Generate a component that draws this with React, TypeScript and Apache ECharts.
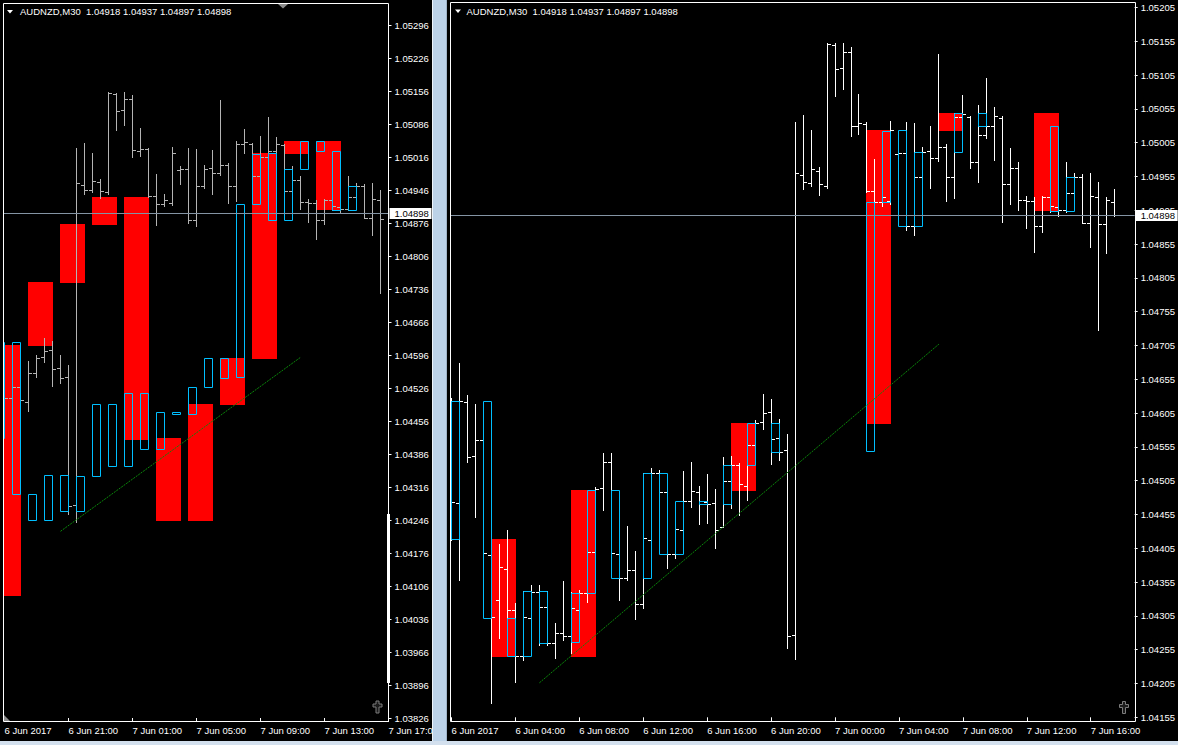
import React, { useEffect, useRef } from "react";
import * as echarts from "echarts";

// ---------- data (AUDNZD M30, bar 0 = 6 Jun 2017 00:00) ----------
const TITLE = "AUDNZD,M30  1.04918 1.04937 1.04897 1.04898";
const BID = 1.04898;
const BID_LABEL = "1.04898";

const OPEN = [
  1.04521, 1.04472, 1.04621, 1.04542, 1.04565, 1.04395, 1.04329, 1.04374, 1.04314, 1.04246,
  1.04302, 1.0434, 1.04318, 1.04265, 1.0428, 1.04275, 1.04314, 1.04339, 1.044, 1.04494,
  1.04533, 1.04397, 1.04361, 1.04373, 1.04323, 1.04417, 1.04516, 1.04488, 1.04397, 1.04432,
  1.04475, 1.04488, 1.04473, 1.04472, 1.04437, 1.04505, 1.04528, 1.04497, 1.04558, 1.04592,
  1.04607, 1.04568, 1.0455, 1.04277, 1.04957, 1.04946, 1.04963, 1.04941, 1.0515, 1.05115,
  1.05139, 1.05029, 1.05033, 1.04934, 1.04917, 1.04919, 1.04988, 1.0499, 1.04882, 1.04954,
  1.04993, 1.04982, 1.04999, 1.04954, 1.05043, 1.05043, 1.04976, 1.05016, 1.05029, 1.05042,
  1.04944, 1.04968, 1.0492, 1.04919, 1.04882, 1.04925, 1.0491, 1.04905, 1.04931, 1.04954,
  1.04886, 1.04925, 1.04885, 1.04918,
];
const HIGH = [
  1.04627, 1.04679, 1.04632, 1.04618, 1.04617, 1.04402, 1.04411, 1.04432, 1.04324, 1.04342,
  1.04351, 1.04351, 1.04342, 1.04295, 1.04357, 1.0434, 1.04343, 1.04477, 1.04496, 1.04546,
  1.04546, 1.04405, 1.04438, 1.04401, 1.04516, 1.04524, 1.04521, 1.04506, 1.04469, 1.04519,
  1.04533, 1.04497, 1.04515, 1.04493, 1.0454, 1.04542, 1.04531, 1.04583, 1.04595, 1.04633,
  1.04626, 1.04596, 1.04574, 1.05036, 1.05046, 1.05024, 1.04969, 1.05153, 1.05152, 1.05153,
  1.05147, 1.05077, 1.05036, 1.04981, 1.04938, 1.05037, 1.04996, 1.05036, 1.05034, 1.04999,
  1.0503, 1.05136, 1.05003, 1.05049, 1.05076, 1.05045, 1.05061, 1.05101, 1.05058, 1.05044,
  1.04997, 1.04976, 1.04926, 1.04925, 1.04926, 1.05016, 1.0492, 1.04976, 1.0496, 1.04959,
  1.0496, 1.04947, 1.04925, 1.04937,
];
const LOW = [
  1.04417, 1.04358, 1.04533, 1.04451, 1.04373, 1.04176, 1.04272, 1.04299, 1.04207, 1.0424,
  1.04255, 1.04262, 1.04262, 1.04243, 1.04269, 1.0425, 1.04269, 1.04326, 1.04388, 1.04462,
  1.04388, 1.04329, 1.04358, 1.043, 1.04317, 1.0441, 1.04477, 1.04376, 1.04391, 1.0441,
  1.04466, 1.04441, 1.04442, 1.04405, 1.04437, 1.04465, 1.04454, 1.04477, 1.0455, 1.04581,
  1.0453, 1.04536, 1.04258, 1.04241, 1.04937, 1.04941, 1.04928, 1.04938, 1.05074, 1.05084,
  1.05015, 1.05018, 1.04932, 1.04871, 1.04912, 1.04915, 1.04959, 1.04876, 1.04869, 1.0495,
  1.04938, 1.04978, 1.04919, 1.04923, 1.05024, 1.04968, 1.04947, 1.05012, 1.04979, 1.04888,
  1.04914, 1.04905, 1.04879, 1.04843, 1.04873, 1.04903, 1.04897, 1.04903, 1.04913, 1.04886,
  1.04851, 1.04728, 1.04842, 1.04897,
];
const CLOSE = [
  1.04474, 1.04623, 1.0454, 1.04565, 1.04398, 1.04303, 1.04377, 1.04314, 1.04246, 1.04303,
  1.0434, 1.04318, 1.04265, 1.0428, 1.04275, 1.04317, 1.04339, 1.044, 1.04493, 1.04533,
  1.04398, 1.04361, 1.04373, 1.04323, 1.0442, 1.04516, 1.04488, 1.04397, 1.04434, 1.04475,
  1.0449, 1.04475, 1.04471, 1.04432, 1.04505, 1.04528, 1.045, 1.04558, 1.0459, 1.04605,
  1.04567, 1.04547, 1.04275, 1.0496, 1.04947, 1.04966, 1.04944, 1.05151, 1.05114, 1.05139,
  1.0503, 1.05034, 1.04934, 1.04917, 1.04925, 1.05024, 1.0499, 1.04882, 1.04954, 1.04991,
  1.04982, 1.04999, 1.04954, 1.05043, 1.05048, 1.04976, 1.05016, 1.05029, 1.05044, 1.04944,
  1.04968, 1.0492, 1.04919, 1.04882, 1.04925, 1.04911, 1.04905, 1.04931, 1.04954, 1.04886,
  1.04926, 1.04885, 1.0492, 1.04898,
];

// red filled zones (3 bars wide)
const RED_TOP = [1.04618, 1.04751, 1.04874, 1.04932, 1.04932, 1.04419, 1.04491, 1.0459, 1.05024, 1.05049, 1.05049];
const RED_BOTTOM = [1.04086, 1.04618, 1.04751, 1.04874, 1.04418, 1.04246, 1.04246, 1.04491, 1.0459, 1.05024, 1.04905];
const LEFT_RED_START = [33, 37, 41, 45, 49, 53, 57, 61, 65, 69, 73];
const RIGHT_RED_START = [null, null, null, null, null, 5, 15, 35, 52, 61, 73];
const RED_SPAN = 3;

// cyan outlined boxes (1 bar wide)
const CYAN_TOP = [1.04623, 1.04623, 1.04302, 1.04342, 1.04342, 1.04339, 1.04491, 1.04491, 1.04516, 1.04516, 1.04475, 1.04475, 1.04528, 1.0459, 1.0459, 1.04917, 1.05022, 1.05024, 1.04991, 1.05049, 1.05049, 1.05029, 1.04954];
const CYAN_BOTTOM = [1.04419, 1.04302, 1.04246, 1.04246, 1.04265, 1.04266, 1.04339, 1.04361, 1.04361, 1.04397, 1.04397, 1.04471, 1.04471, 1.04528, 1.04547, 1.04549, 1.04917, 1.04882, 1.04882, 1.04991, 1.05029, 1.04904, 1.04904];
const LEFT_CYAN_START = [33, 35, 37, 39, 41, 43, 45, 47, 49, 51, 53, 55, 57, 59, 61, 63, 65, 67, 69, 71, 73, 75, 77];
const RIGHT_CYAN_START = [0, 4, 7, 9, 11, 15, 17, 20, 24, 26, 28, 31, 34, 37, 40, 52, 54, 56, 58, 63, 66, 75, 77];
const CYAN_SPAN = 1;

// trend lines
const LEFT_TREND_BARS = [41, 71];
const LEFT_TREND_PRICES = [1.04222, 1.04591];
const RIGHT_TREND_BARS = [11, 61];
const RIGHT_TREND_PRICES = [1.04206, 1.04707];

// axes
const LEFT_X_LABELS = ["6 Jun 2017", "6 Jun 21:00", "7 Jun 01:00", "7 Jun 05:00", "7 Jun 09:00", "7 Jun 13:00", "7 Jun 17:00"];
const RIGHT_X_LABELS = ["6 Jun 2017", "6 Jun 04:00", "6 Jun 08:00", "6 Jun 12:00", "6 Jun 16:00", "6 Jun 20:00", "7 Jun 00:00", "7 Jun 04:00", "7 Jun 08:00", "7 Jun 12:00", "7 Jun 16:00"];
const LEFT_Y_BASE = 1.03826;
const LEFT_Y_STEP = 0.0007;
const LEFT_Y_COUNT = 21;
const RIGHT_Y_BASE = 1.04155;
const RIGHT_Y_STEP = 0.0005;
const RIGHT_Y_COUNT = 21;

// ---------- styling / layout ----------
const FONT = '"Liberation Sans", Arial, sans-serif';
const FS = 9.5;
const RED = "#ff0000";
const CYAN = "#00bfff";
const GREEN = "#0a870a";
const BIDLINE = "#8494a4";

type Panel = {
  slot0: number; slots: number; firstBar: number; lastBar: number;
  grid: { left: number; top: number; width: number; height: number };
  yBase: number; yStep: number; yCount: number; xLabels: string[];
  xOffset: number; yOffset: number; barColor: string;
  redStart: (number | null)[]; cyanStart: number[];
  trendBars: number[]; trendPrices: number[];
};

const PANELS: Panel[] = [
  {
    slot0: 34, slots: 49, firstBar: 34, lastBar: 81,
    grid: { left: 4.5, top: 25, width: 384, height: 693 },
    yBase: LEFT_Y_BASE, yStep: LEFT_Y_STEP, yCount: LEFT_Y_COUNT, xLabels: LEFT_X_LABELS,
    xOffset: 3.5, yOffset: 0, barColor: "#b4b4b4",
    redStart: LEFT_RED_START, cyanStart: LEFT_CYAN_START,
    trendBars: LEFT_TREND_BARS, trendPrices: LEFT_TREND_PRICES,
  },
  {
    slot0: 0, slots: 86, firstBar: 0, lastBar: 83,
    grid: { left: 451.5, top: 7.5, width: 680, height: 709.8 },
    yBase: RIGHT_Y_BASE, yStep: RIGHT_Y_STEP, yCount: RIGHT_Y_COUNT, xLabels: RIGHT_X_LABELS,
    xOffset: 4.2, yOffset: 4, barColor: "#ffffff",
    redStart: RIGHT_RED_START, cyanStart: RIGHT_CYAN_START,
    trendBars: RIGHT_TREND_BARS, trendPrices: RIGHT_TREND_PRICES,
  },
];

type Box = { k1: number; k2: number; top: number; bottom: number };

function makeBoxes(p: Panel, starts: (number | null)[], tops: number[], bottoms: number[], span: number): Box[] {
  const out: Box[] = [];
  starts.forEach((s, j) => {
    if (s === null || s === undefined) return;
    out.push({ k1: s - p.slot0, k2: s + span - p.slot0, top: tops[j] - p.yBase, bottom: bottoms[j] - p.yBase });
  });
  return out;
}

function buildSeries(p: Panel, g: number): any[] {
  const reds = makeBoxes(p, p.redStart, RED_TOP, RED_BOTTOM, RED_SPAN);
  const cyans = makeBoxes(p, p.cyanStart, CYAN_TOP, CYAN_BOTTOM, CYAN_SPAN);
  const bars: number[][] = [];
  for (let i = p.firstBar; i <= p.lastBar; i++) {
    bars.push([i - p.slot0, OPEN[i] - p.yBase, HIGH[i] - p.yBase, LOW[i] - p.yBase, CLOSE[i] - p.yBase]);
  }

  const redSeries = {
    type: "custom", xAxisIndex: g, yAxisIndex: g, z: 1, silent: true,
    data: reds.map((b) => [Math.max(b.k1, 0), b.top]),
    renderItem: (params: any, api: any) => {
      const b = reds[params.dataIndex];
      const cs = params.coordSys;
      const p1 = api.coord([b.k1, b.top]);
      const p2 = api.coord([b.k2, b.bottom]);
      const x1 = Math.max(Math.floor(p1[0]), Math.floor(cs.x));
      const x2 = Math.floor(p2[0]) + 1;
      const y1 = Math.round(p1[1]);
      const y2 = Math.round(p2[1]) + 1;
      return { type: "rect", shape: { x: x1, y: y1, width: x2 - x1, height: y2 - y1 }, style: { fill: RED } };
    },
  };

  const barSeries = {
    type: "custom", xAxisIndex: g, yAxisIndex: g, z: 2, silent: true,
    encode: { x: 0, y: [1, 2, 3, 4] },
    data: bars,
    renderItem: (params: any, api: any) => {
      const cs = params.coordSys;
      const k = api.value(0);
      const pO = api.coord([k, api.value(1)]);
      const pH = api.coord([k, api.value(2)]);
      const pL = api.coord([k, api.value(3)]);
      const pC = api.coord([k, api.value(4)]);
      const x = Math.floor(pH[0]) + 0.5;
      const yH = Math.round(pH[1]);
      const yL = Math.round(pL[1]);
      const yO = Math.round(pO[1]) + 0.5;
      const yC = Math.round(pC[1]) + 0.5;
      const st = { stroke: p.barColor, lineWidth: 1 };
      const lx1 = Math.max(x - 3.5, Math.floor(cs.x));
      return {
        type: "group",
        children: [
          { type: "line", shape: { x1: x, y1: yH, x2: x, y2: Math.max(yL, yH) + 1 }, style: st },
          { type: "line", shape: { x1: lx1, y1: yO, x2: x - 0.5, y2: yO }, style: st },
          { type: "line", shape: { x1: x + 0.5, y1: yC, x2: x + 3.5, y2: yC }, style: st },
        ],
      };
    },
  };

  const cyanSeries = {
    type: "custom", xAxisIndex: g, yAxisIndex: g, z: 3, silent: true,
    data: cyans.map((b) => [Math.max(b.k1, 0), b.top]),
    renderItem: (params: any, api: any) => {
      const b = cyans[params.dataIndex];
      const cs = params.coordSys;
      const p1 = api.coord([b.k1, b.top]);
      const p2 = api.coord([b.k2, b.bottom]);
      const x1 = Math.max(Math.floor(p1[0]), Math.floor(cs.x)) + 0.5;
      const x2 = Math.floor(p2[0]) + 0.5;
      const y1 = Math.round(p1[1]) + 0.5;
      const y2 = Math.max(Math.round(p2[1]) + 0.5, y1 + 1);
      return {
        type: "rect",
        shape: { x: x1, y: y1, width: x2 - x1, height: y2 - y1 },
        style: { fill: "none", stroke: CYAN, lineWidth: 1 },
      };
    },
  };

  const trendSeries = {
    type: "line", xAxisIndex: g, yAxisIndex: g, z: 4, silent: true,
    showSymbol: false, symbol: "none",
    data: p.trendBars.map((b, j) => [b - p.slot0, p.trendPrices[j] - p.yBase]),
    lineStyle: { color: GREEN, width: 1, type: [2, 1] },
  };

  const bidSeries = {
    type: "custom", xAxisIndex: g, yAxisIndex: g, z: 5, silent: true,
    data: [[0, BID - p.yBase]],
    renderItem: (params: any, api: any) => {
      const cs = params.coordSys;
      const pt = api.coord([0, api.value(1)]);
      const y = Math.round(pt[1]) + 0.5;
      const axisX = cs.x + cs.width + p.yOffset;
      return {
        type: "group",
        children: [
          { type: "line", shape: { x1: Math.floor(cs.x), y1: y, x2: axisX, y2: y }, style: { stroke: BIDLINE, lineWidth: 1 } },
          { type: "rect", shape: { x: axisX + 1, y: y - 5.5, width: 42, height: 11 }, style: { fill: "#ffffff" } },
          {
            type: "text",
            style: { text: BID_LABEL, x: axisX + 6, y: y, fill: "#000000", fontSize: FS, fontFamily: FONT, align: "left", verticalAlign: "middle" },
          },
        ],
      };
    },
  };

  return [redSeries, barSeries, cyanSeries, trendSeries, bidSeries];
}

function cross(x: number, y: number): number[][] {
  return [
    [x + 3, y], [x + 6, y], [x + 6, y + 3], [x + 9, y + 3], [x + 9, y + 6], [x + 6, y + 6],
    [x + 6, y + 12], [x + 3, y + 12], [x + 3, y + 6], [x, y + 6], [x, y + 3], [x + 3, y + 3],
  ];
}

function buildOption(): any {
  const series: any[] = [];
  PANELS.forEach((p, g) => series.push(...buildSeries(p, g)));

  const textStyle = { fill: "#ffffff", fontSize: FS, fontFamily: FONT, verticalAlign: "middle", align: "left" };

  return {
    backgroundColor: "#000000",
    animation: false,
    grid: PANELS.map((p) => ({ ...p.grid, show: false })),
    xAxis: PANELS.map((p, g) => ({
      type: "category",
      gridIndex: g,
      data: Array.from({ length: p.slots }, (_, k) => String(k)),
      boundaryGap: false,
      position: "bottom",
      offset: p.xOffset,
      axisLine: { show: false },
      axisTick: { show: true, interval: 7, length: 4, lineStyle: { color: "#ffffff", width: 1 } },
      axisLabel: {
        show: true, interval: 7, color: "#ffffff", fontSize: FS, fontFamily: FONT, align: "left", margin: 4,
        formatter: (v: string) => {
          const k = Number(v);
          return k % 8 === 0 ? p.xLabels[k / 8] ?? "" : "";
        },
      },
      splitLine: { show: false },
    })),
    yAxis: PANELS.map((p, g) => ({
      type: "value",
      gridIndex: g,
      position: "right",
      offset: p.yOffset,
      min: 0,
      max: Number((p.yCount * p.yStep).toFixed(6)),
      interval: p.yStep,
      axisLine: { show: false },
      axisTick: { show: true, length: 3, lineStyle: { color: "#ffffff", width: 1 } },
      axisLabel: { color: "#ffffff", fontSize: FS, fontFamily: FONT, margin: 6, formatter: (v: number) => (p.yBase + v).toFixed(5) },
      splitLine: { show: false },
    })),
    series,
    graphic: {
      elements: [
        // frames
        { type: "rect", z: 50, silent: true, shape: { x: 3.5, y: 3.5, width: 385, height: 718 }, style: { fill: "none", stroke: "#ffffff", lineWidth: 1 } },
        { type: "rect", z: 50, silent: true, shape: { x: 450.5, y: 2.5, width: 685, height: 719 }, style: { fill: "none", stroke: "#ffffff", lineWidth: 1 } },
        // scale drag bar on left price axis
        { type: "rect", z: 50, silent: true, shape: { x: 387, y: 514, width: 3, height: 169 }, style: { fill: "#ffffff" } },
        // chart shift marker & corner mark
        { type: "polygon", z: 50, silent: true, shape: { points: [[278, 4], [288, 4], [283, 8.5]] }, style: { fill: "#8c8c8c" } },
        { type: "polygon", z: 50, silent: true, shape: { points: [[4, 715], [4, 721], [10, 721]] }, style: { fill: "#8c8c8c" } },
        // title triangles and texts
        { type: "polygon", z: 50, silent: true, shape: { points: [[7, 10], [13, 10], [10, 13.5]] }, style: { fill: "#ffffff" } },
        { type: "text", z: 50, silent: true, style: { ...textStyle, text: TITLE, x: 20, y: 11.5 } },
        { type: "polygon", z: 50, silent: true, shape: { points: [[455, 9.5], [461, 9.5], [458, 13]] }, style: { fill: "#ffffff" } },
        { type: "text", z: 50, silent: true, style: { ...textStyle, text: TITLE, x: 466.5, y: 11 } },
        // one-click crosses
        { type: "polygon", z: 50, silent: true, shape: { points: cross(373, 701) }, style: { fill: "#1c1c1c", stroke: "#7c7c7c", lineWidth: 1 } },
        { type: "polygon", z: 50, silent: true, shape: { points: cross(1119.5, 701.5) }, style: { fill: "#1c1c1c", stroke: "#7c7c7c", lineWidth: 1 } },
        // window separators
        { type: "rect", z: 100, silent: true, shape: { x: 432, y: 0, width: 15, height: 745 }, style: { fill: "#bcd2e8" } },
        { type: "line", z: 101, silent: true, shape: { x1: 432.5, y1: 0, x2: 432.5, y2: 741 }, style: { stroke: "#eef4fa", lineWidth: 1 } },
        { type: "line", z: 101, silent: true, shape: { x1: 446.5, y1: 0, x2: 446.5, y2: 741 }, style: { stroke: "#9fb3c8", lineWidth: 1 } },
        { type: "rect", z: 100, silent: true, shape: { x: 0, y: 741, width: 1178, height: 4 }, style: { fill: "#d3e0ee" } },
      ],
    },
  };
}

export default function App() {
  const ref = useRef<HTMLDivElement>(null);
  useEffect(() => {
    if (!ref.current) return;
    const chart = echarts.init(ref.current, null, { renderer: "svg" });
    chart.setOption(buildOption());
    return () => chart.dispose();
  }, []);
  return (
    <div
      ref={ref}
      style={{ position: "fixed", left: 0, top: 0, width: 1178, height: 745, background: "#000000" }}
    />
  );
}
